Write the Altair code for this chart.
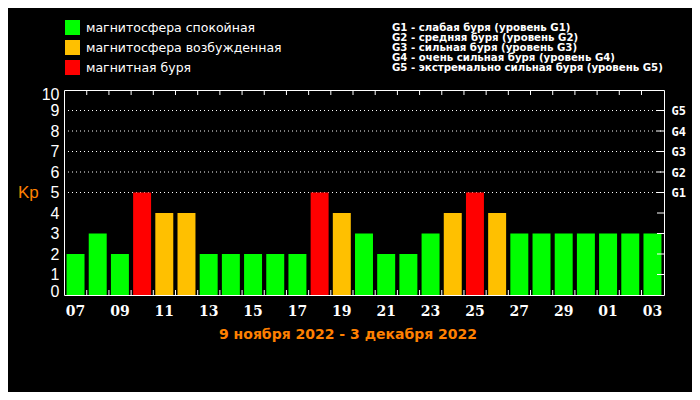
import altair as alt
import pandas as pd

days = ["07", "08", "09", "10", "11", "12", "13", "14", "15", "16", "17", "18", "19", "20",
        "21", "22", "23", "24", "25", "26", "27", "28", "29", "30", "01", "02", "03"]
kp = [2, 3, 2, 5, 4, 4, 2, 2, 2, 2, 2, 5, 4, 3, 2, 2, 3, 4, 5, 4, 3, 3, 3, 3, 3, 3, 3]
label_days = ["07", "09", "11", "13", "15", "17", "19", "21", "23", "25", "27", "29", "01", "03"]
states = ["магнитосфера спокойная", "магнитосфера возбужденная", "магнитная буря"]
state_colors = ["#00ff00", "#ffc000", "#ff0000"]
g_levels = [5, 6, 7, 8, 9]
g_lines = [
    "G1 - слабая буря (уровень G1)",
    "G2 - средняя буря (уровень G2)",
    "G3 - сильная буря (уровень G3)",
    "G4 - очень сильная буря (уровень G4)",
    "G5 - экстремально сильная буря (уровень G5)",
]
tick_levels = [1, 2, 3, 4, 5, 6, 7, 8, 9]
period = "9 ноября 2022 - 3 декабря 2022"

def state_of(v):
    return states[2] if v >= 5 else (states[1] if v == 4 else states[0])

df = pd.DataFrame({"day": days, "kp": kp, "state": [state_of(v) for v in kp]})
df_grid = pd.DataFrame({"lvl": g_levels})
df_rt = pd.DataFrame({"lvl": tick_levels})
df_bound = pd.DataFrame({"day": days[1:]})

xscale = alt.Scale(domain=days, paddingInner=0.19, paddingOuter=0.115)
yscale = alt.Scale(domain=[0, 10], nice=False, zero=True)
ORANGE = "#ff8000"

xaxis = alt.Axis(values=label_days, title=None, domain=False, ticks=False, grid=False,
                 labelAngle=0, labelColor="white", labelFont="DejaVu Serif",
                 labelFontWeight="bold", labelFontSize=14, labelPadding=9,
                 labelOverlap=False)

bars = alt.Chart(df).mark_bar(strokeWidth=0).encode(
    x=alt.X("day:O", sort=days, scale=xscale, axis=xaxis),
    y=alt.Y("kp:Q", scale=yscale,
            axis=alt.Axis(values=list(range(11)), title=None, domain=False, ticks=False,
                          grid=False, labelColor="white", labelFont="Liberation Sans",
                          labelFontSize=16, labelPadding=5, labelFlush=True,
                          labelFlushOffset=4, labelOverlap=False)),
    color=alt.Color("state:N", scale=alt.Scale(domain=states, range=state_colors),
                    legend=alt.Legend(orient="none", legendX=1, legendY=-70, title=None,
                                      symbolType="square", symbolSize=225,
                                      symbolStrokeWidth=0, symbolOpacity=1,
                                      labelColor="white", labelFont="DejaVu Sans",
                                      labelFontSize=12.5, rowPadding=5, padding=0,
                                      labelOffset=6, labelLimit=400)),
)

grid = alt.Chart(df_grid).mark_rule(color="white", strokeDash=[1, 3], strokeWidth=1).encode(
    y=alt.Y("lvl:Q", scale=yscale,
            axis=alt.Axis(orient="right", values=g_levels, title=None, domain=False,
                          ticks=False, grid=False, labelExpr="'G' + (datum.value - 4)",
                          labelColor="white", labelFont="DejaVu Sans Mono",
                          labelFontWeight="bold", labelFontSize=12, labelPadding=7,
                          labelOverlap=False)),
    x=alt.value(0),
    x2=alt.value(600),
)

right_ticks = alt.Chart(df_rt).mark_rule(color="white", strokeWidth=1).encode(
    y=alt.Y("lvl:Q", scale=yscale, axis=None),
    x=alt.value(593),
    x2=alt.value(600),
)

top_ticks = alt.Chart(df_bound).mark_rule(color="white", strokeWidth=1).encode(
    x=alt.X("day:O", sort=days, scale=xscale, bandPosition=0, axis=xaxis),
    xOffset=alt.value(-2),
    y=alt.value(0),
    y2=alt.value(5),
)
bottom_ticks = alt.Chart(df_bound).mark_rule(color="white", strokeWidth=1).encode(
    x=alt.X("day:O", sort=days, scale=xscale, bandPosition=0, axis=xaxis),
    xOffset=alt.value(-2),
    y=alt.value(200),
    y2=alt.value(205),
)

kp_label = alt.Chart(df_grid.head(1)).mark_text(
    text="Kp", color=ORANGE, font="Liberation Sans", fontSize=17, align="left", baseline="middle"
).encode(x=alt.value(-46), y=alt.YDatum(5, scale=yscale, axis=None))

g_text = alt.Chart(df_grid.head(1)).mark_text(
    text=g_lines, color="white", font="DejaVu Sans", fontSize=10.2, fontWeight="bold",
    align="left", baseline="top", lineHeight=10
).encode(x=alt.value(328), y=alt.value(-67))

title_text = alt.Chart(df_grid.head(1)).mark_text(
    text=period, color=ORANGE, font="DejaVu Sans", fontSize=14, fontWeight="bold",
    align="center", baseline="middle"
).encode(x=alt.value(284), y=alt.value(245))

chart = alt.layer(
    grid, bars, right_ticks, top_ticks, bottom_ticks, kp_label, g_text, title_text
).resolve_axis(y="independent").properties(
    width=600, height=205,
    padding={"left": 56, "top": 82, "right": 28, "bottom": 97},
    autosize=alt.AutoSizeParams(type="none"),
    background="black",
).configure_view(stroke="white", strokeWidth=1, fill="black")

chart.save("out.html", embed_options={"renderer": "svg", "actions": False})
